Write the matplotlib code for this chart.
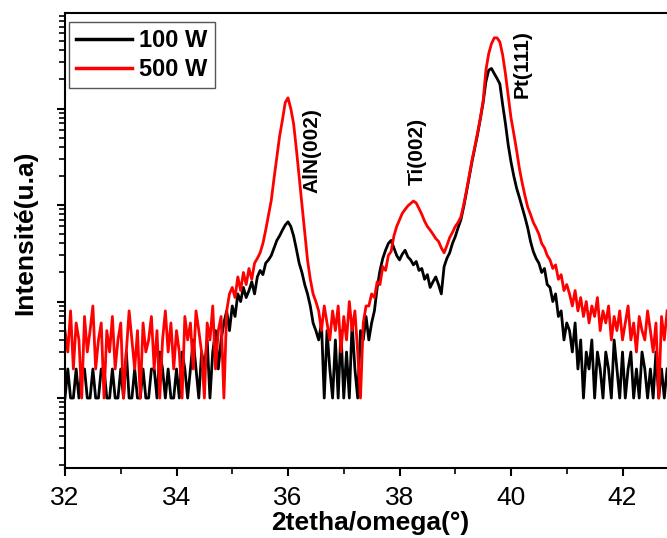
import numpy as np
import matplotlib
matplotlib.use("Agg")
import matplotlib.pyplot as plt
from matplotlib.ticker import LogLocator, NullFormatter, MultipleLocator

plt.rcParams['font.family'] = ['Liberation Sans', 'DejaVu Sans']

# 2theta grid (deg), step 0.05
two_theta = np.round(np.arange(32.0, 42.8001, 0.05), 2)

# Intensity, 500 W (red)
i_500w = [
    5, 3, 8, 2, 6, 4, 1, 7, 3, 5,
    9, 2, 4, 6, 1, 5, 3, 7, 2, 4,
    6, 1, 3, 8, 4, 2, 5, 1, 6, 3,
    4, 7, 2, 5, 1, 4, 8, 3, 6, 2,
    5, 3, 1, 7, 4, 6, 2, 8, 5, 3,
    1, 6, 4, 9, 2, 5, 7, 1, 8, 12,
    14, 11, 18, 13, 20, 15, 22, 17, 25, 28,
    32, 40, 55, 78, 112, 190, 315, 520, 760, 1150,
    1290, 1000, 700, 380, 195, 100, 50, 27, 17, 12,
    10,
    8, 5, 9, 6, 4, 8, 5, 9, 3, 7,
    4, 10, 5, 8, 3, 1, 6, 9,
    9, 12, 11, 16, 15, 23, 21, 30, 33, 48,
    60, 70, 82, 90, 98, 104, 110, 105, 92, 80,
    68, 60, 55, 50, 45, 42, 36, 32, 38, 46,
    52, 60, 66, 75, 100, 140, 200, 290, 400, 560,
    800, 1200,
    2500, 3700, 4700, 5400, 5400, 4900, 3600, 2300, 1350, 800,
    550, 370, 240, 170, 125, 95, 80, 66, 58, 50,
    40, 36, 30, 27, 22, 24, 17, 19, 13, 15,
    12, 9, 13, 8, 11, 7, 10, 6, 9, 7,
    11, 5, 8, 6, 9, 4, 7, 5, 8, 4,
    6, 9, 4, 6, 3, 7, 5, 4, 8, 5,
    3, 6, 1, 7, 4, 8,
]

# Intensity, 100 W (black)
i_100w = [
    1, 2, 1, 1, 2, 1, 2, 2, 1, 1,
    2, 1, 1, 2, 2, 1, 1, 2, 1, 1,
    2, 1, 3, 1, 1, 2, 1, 1, 2, 1,
    1, 2, 2, 1, 3, 2, 1, 2, 1, 1,
    2, 1, 3, 2, 1, 2, 4, 2, 1, 3,
    2, 4, 1, 3, 5, 2, 4, 6, 8, 5,
    9, 7, 12, 10, 14, 11, 13, 16, 12, 18,
    21, 19, 25, 27, 30, 36, 43, 48, 55, 62,
    67, 60, 48, 35, 25, 20, 15, 12, 9, 6,
    5,
    4, 6, 1, 5, 2, 1, 4, 1, 5, 1,
    3, 1, 6, 2, 1, 5, 4, 7,
    4, 6, 8, 14, 21, 28, 34, 40, 43, 36,
    30, 27, 31, 34, 29, 27, 24, 26, 21, 22,
    17, 19, 14, 16, 18, 15, 12, 23, 28, 32,
    40, 47, 58, 70, 95, 135, 195, 280, 390, 540,
    780, 1150,
    1900, 2500, 2600, 2300, 2050, 1800, 1100, 700, 420, 280,
    200, 150, 120, 95, 75, 58, 42, 33, 28, 25,
    20, 22, 15, 14, 10, 12, 7, 8, 4, 6,
    5, 3, 6, 2, 4, 1, 3, 2, 4, 1,
    3, 2, 1, 3, 2, 1, 4, 2, 1, 3,
    1, 2, 3, 1, 2, 1, 3, 2, 1, 2,
    1, 3, 1, 2, 1, 2,
]

series_labels = ["100 W", "500 W"]
peak_labels = ["AlN(002)", "Ti(002)", "Pt(111)"]
peak_pos = [36.43, 38.31, 40.20]
peak_base = [133, 161, 1285]

fig = plt.figure(figsize=(6.67, 5.38), dpi=100)
ax = fig.add_axes([65/667, 1 - 468/538, 1 - 65/667, (468 - 13)/538])

ax.plot(two_theta, i_100w, color='black', lw=2.0, label=series_labels[0])
ax.plot(two_theta, i_500w, color='#ff0000', lw=2.0, label=series_labels[1])

ax.set_yscale('log')
ax.set_xlim(32, 32 + 602/55.75)
ax.set_ylim(10**-0.725, 10**3.99)

ax.xaxis.set_major_locator(MultipleLocator(2))
ax.xaxis.set_minor_locator(MultipleLocator(1))
ax.yaxis.set_major_locator(LogLocator(base=10, numticks=10))
ax.yaxis.set_minor_locator(LogLocator(base=10, subs=np.arange(2, 10), numticks=20))
ax.yaxis.set_major_formatter(NullFormatter())
ax.yaxis.set_minor_formatter(NullFormatter())

ax.tick_params(axis='both', which='major', direction='out', length=6, width=1.5)
ax.tick_params(axis='both', which='minor', direction='out', length=4, width=1.2)
ax.tick_params(axis='x', which='major', labelsize=19, pad=7)
ax.tick_params(top=False, right=False)

for s in ['left', 'bottom', 'top']:
    ax.spines[s].set_linewidth(1.5)
ax.spines['right'].set_visible(False)

for lab, xp, yb in zip(peak_labels, peak_pos, peak_base):
    ax.text(xp, yb, lab, rotation=90, ha='center', va='bottom',
            fontsize=15, fontweight='bold')

leg = ax.legend(loc='upper left', bbox_to_anchor=(0.006, 0.98),
                borderaxespad=0, prop={'weight': 'bold', 'size': 17},
                handlelength=2.4, handletextpad=0.3, labelspacing=0.25,
                borderpad=0.3, fancybox=False, framealpha=1)
leg.get_frame().set_edgecolor('#555555')
leg.get_frame().set_linewidth(1.0)
for l in leg.get_lines():
    l.set_linewidth(2.5)

fig.text(370/667, 1 - 523/538, "2tetha/omega(°)", ha='center', va='center',
         fontsize=19, fontweight='bold')
fig.text(25/667, 1 - 233/538, "Intensité(u.a)", ha='center', va='center',
         rotation=90, fontsize=19, fontweight='bold')

fig.savefig("out.png", dpi=100)
